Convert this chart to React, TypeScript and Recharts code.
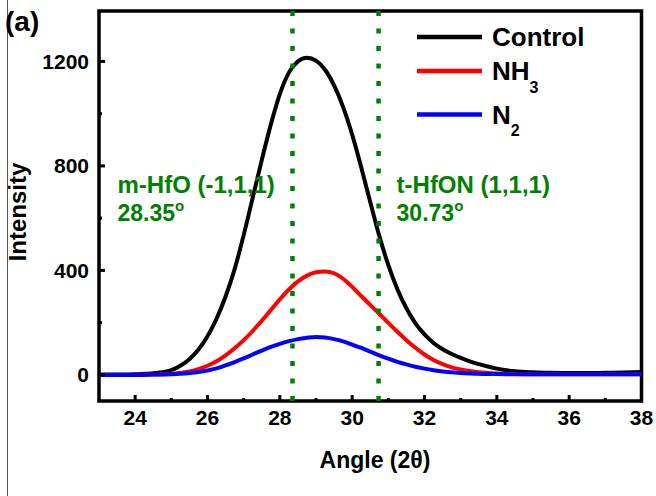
import React from 'react';
import { LineChart, Line, XAxis, YAxis, ReferenceLine, ReferenceArea, Legend } from 'recharts';

const angles = [
  23, 23.5, 24, 24.25, 24.5, 24.75, 25, 25.25, 25.5, 25.75, 26, 26.25, 26.5, 26.75, 27, 27.25,
  27.5, 27.75, 28, 28.25, 28.5, 28.75, 29, 29.25, 29.5, 29.75, 30, 30.25, 30.5, 30.75, 31, 31.25,
  31.5, 31.75, 32, 32.25, 32.5, 32.75, 33, 33.25, 33.5, 33.75, 34, 34.5, 35, 35.5, 36, 36.5, 37, 37.5, 38,
];

const control = [
  1, 1, 2, 4, 6, 10, 18, 35, 60, 97, 148, 215, 300, 405, 535, 678,
  822, 958, 1075, 1157, 1200, 1214, 1203, 1168, 1108, 1025, 920, 795, 662, 532, 420, 328,
  255, 197, 155, 122, 98, 80, 65, 52, 41, 32, 24, 14, 10, 8, 7, 7, 8, 9, 11,
];

const nh3 = [
  0, 0, 0, 1, 1, 2, 4, 7, 13, 22, 35, 52, 75, 102, 133, 168,
  207, 248, 289, 327, 358, 380, 393, 396, 389, 368, 337, 302, 268, 234, 199, 165,
  133, 104, 78, 57, 41, 29, 21, 15, 10, 7, 5, 3, 2, 2, 2, 2, 2, 2, 2,
];

const n2 = [
  0, 0, 0, 0, 1, 1, 2, 4, 7, 11, 17, 25, 36, 49, 63, 78,
  93, 107, 119, 129, 137, 142, 145, 143, 137, 128, 116, 103, 89, 75, 62, 50,
  40, 31, 24, 18, 13, 10, 7, 5, 4, 3, 3, 2, 2, 2, 2, 2, 2, 2, 2,
];

const seriesKeys = ['control', 'nh3', 'n2'];
const seriesNames = ['Control', 'NH3', 'N2'];
const seriesColors = ['#000000', '#ff0000', '#0000ff'];

const xTicks = [24, 25, 26, 27, 28, 29, 30, 31, 32, 33, 34, 35, 36, 37, 38];
const xMajorTicks = [24, 26, 28, 30, 32, 34, 36, 38];
const yTicks = [0, 200, 400, 600, 800, 1000, 1200];
const yMajorTicks = [0, 400, 800, 1200];

const peakAngles = [28.35, 30.73];
const peakNames = ['m-HfO (-1,1,1)', 't-HfON (1,1,1)'];
const peakAngleText = ['28.35', '30.73'];

const xDomain = [23, 38];
const yDomain = [-100, 1393];

const data = angles.map((a, i) => ({ angle: a, control: control[i], nh3: nh3[i], n2: n2[i] }));

const FONT = 'Liberation Sans, Arial, Helvetica, sans-serif';
const GREEN = '#008000';

const XTick = (props: any) => {
  const { x, y, payload } = props;
  const v = payload.value;
  const major = xMajorTicks.includes(v);
  return (
    <g>
      <line x1={x} x2={x} y1={y} y2={y - (major ? 6 : 3)} stroke="#000" strokeWidth={3} />
      {major && (
        <text x={x} y={y + 24} textAnchor="middle" fontFamily={FONT} fontWeight="bold" fontSize={21} fill="#000">
          {v}
        </text>
      )}
    </g>
  );
};

const YTick = (props: any) => {
  const { x, y, payload } = props;
  const v = payload.value;
  const major = yMajorTicks.includes(v);
  return (
    <g>
      <line x1={x} x2={x + (major ? 6 : 3)} y1={y} y2={y} stroke="#000" strokeWidth={3} />
      {major && (
        <text x={x - 10} y={y + 7.5} textAnchor="end" fontFamily={FONT} fontWeight="bold" fontSize={21} fill="#000">
          {v}
        </text>
      )}
    </g>
  );
};

const makePeakLabel = (i: number) => (props: any) => {
  const vb = props.viewBox || {};
  const lx = vb.x ?? 0;
  const ty = vb.y ?? 11;
  const startX = i === 0 ? lx - 175 : lx + 18;
  return (
    <g>
      <text x={startX} y={ty + 182} fontFamily={FONT} fontWeight="bold" fontSize={24} fill={GREEN}>
        {peakNames[i]}
      </text>
      <text x={startX} y={ty + 210} fontFamily={FONT} fontWeight="bold" fontSize={23} fill={GREEN}>
        {peakAngleText[i]}
        <tspan fontSize={15} dy={-10}>o</tspan>
      </text>
    </g>
  );
};

const renderLegend = (props: any) => {
  const payload = props.payload || [];
  const rows = [37, 71, 114.5];
  return (
    <svg width={656} height={150} style={{ display: 'block' }}>
      {seriesKeys.map((k, i) => {
        const entry = payload.find((p: any) => p.dataKey === k);
        const color = entry ? entry.color : seriesColors[i];
        const m = seriesNames[i].match(/^(.*?)(\d+)$/);
        const base = m ? m[1] : seriesNames[i];
        const sub = m ? m[2] : '';
        const cy = rows[i];
        return (
          <g key={k}>
            <line x1={417} x2={482} y1={cy} y2={cy} stroke={color} strokeWidth={4.5} />
            <text x={492} y={cy + 9} fontFamily={FONT} fontWeight="bold" fontSize={26} fill="#000">
              {base}
              {sub && (
                <tspan fontSize={16} dy={12.5}>
                  {sub}
                </tspan>
              )}
            </text>
          </g>
        );
      })}
    </svg>
  );
};

export default function App() {
  return (
    <div style={{ position: 'absolute', left: 0, top: 0, width: 656, height: 496, background: '#fff' }}>
      <div style={{ position: 'absolute', left: 7, top: 0, width: 1, height: 496, background: '#555' }} />
      <LineChart width={656} height={496} data={data} margin={{ top: 11, right: 14.5, left: 0, bottom: 35 }}>
        <XAxis
          dataKey="angle"
          type="number"
          domain={xDomain}
          ticks={xTicks}
          allowDataOverflow
          axisLine={false}
          tickLine={false}
          tickSize={0}
          tickMargin={0}
          height={60}
          interval={0}
          tick={XTick}
          label={{
            content: () => (
              <text x={375} y={468} textAnchor="middle" fontFamily={FONT} fontWeight="bold" fontSize={23} fill="#000">
                Angle (2θ)
              </text>
            ),
          }}
        />
        <YAxis
          type="number"
          domain={yDomain}
          ticks={yTicks}
          allowDataOverflow
          axisLine={false}
          tickLine={false}
          tickSize={0}
          tickMargin={0}
          width={99}
          interval={0}
          tick={YTick}
          label={{
            content: () => (
              <text
                transform="translate(26,212) rotate(-90)"
                textAnchor="middle"
                fontFamily={FONT}
                fontWeight="bold"
                fontSize={24}
                fill="#000"
              >
                Intensity
              </text>
            ),
          }}
        />
        <Legend
          layout="vertical"
          align="center"
          verticalAlign="middle"
          content={renderLegend}
          wrapperStyle={{ position: 'absolute', left: 0, top: 0, width: 656, height: 150, pointerEvents: 'none' }}
        />
        {seriesKeys.map((k, i) => (
          <Line
            key={k}
            type="monotone"
            dataKey={k}
            name={seriesNames[i]}
            stroke={seriesColors[i]}
            strokeWidth={4}
            dot={false}
            activeDot={false}
            isAnimationActive={false}
          />
        ))}
        {peakAngles.map((a, i) => (
          <ReferenceLine
            key={a}
            x={a}
            stroke={GREEN}
            strokeWidth={4.5}
            strokeDasharray="5 12.5"
            label={{ content: makePeakLabel(i) }}
          />
        ))}
        <ReferenceArea
          x1={xDomain[0]}
          x2={xDomain[1]}
          y1={yDomain[0]}
          y2={yDomain[1]}
          stroke="#000"
          strokeWidth={3.5}
          fill="none"
          fillOpacity={0}
          ifOverflow="visible"
        />
        <text x={5} y={31} fontFamily={FONT} fontWeight="bold" fontSize={28} fill="#000">
          (a)
        </text>
      </LineChart>
    </div>
  );
}
